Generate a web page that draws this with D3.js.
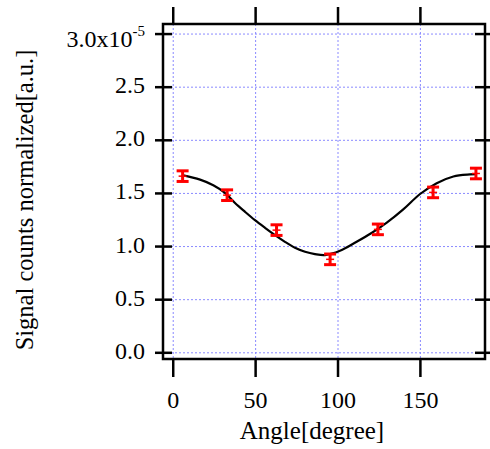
<!DOCTYPE html>
<html>
<head>
<meta charset="utf-8">
<script src="https://cdn.jsdelivr.net/npm/d3@7"></script>
<style>
  body { margin: 0; background: #fff; }
  text { font-family: "Liberation Serif", "Times New Roman", serif; fill: #000; }
</style>
</head>
<body>
<div id="chart"></div>
<script>
// measured points (angle in degree, signal in 1e-5 a.u.)
let angles = [6, 33, 63, 95.5, 124.5, 158, 184];
let signals = [1.658, 1.479, 1.150, 0.875, 1.157, 1.505, 1.683];
let errors = [0.05, 0.05, 0.05, 0.05, 0.05, 0.05, 0.05];

// fitted curve
let fitAngles = [5.6, 16.6, 24.6, 31.7, 37.8, 43.9, 49.9, 56.0, 62.1, 68.1, 74.2, 80.3, 86.3, 92.4, 101.5, 111.6, 120.9, 129.9, 139.9, 150.1, 160.2, 170.3, 180.4, 184.5];
let fitValues = [1.667, 1.625, 1.572, 1.500, 1.405, 1.322, 1.244, 1.172, 1.103, 1.040, 0.984, 0.946, 0.924, 0.915, 0.955, 1.040, 1.125, 1.220, 1.345, 1.490, 1.592, 1.655, 1.674, 1.677];

let xTicks = [0, 50, 100, 150];
let yTicks = [0, 0.5, 1.0, 1.5, 2.0, 2.5, 3.0];

let W = 490, H = 449;
let pLeft = 163, pRight = 485, pTop = 24, pBottom = 359;

let svg = d3.select('#chart')
  .append('svg')
    .attr('width', W)
    .attr('height', H)
;

let x = d3.scaleLinear().domain([-5.9, 189.5]).range([pLeft, pRight]);
let y = d3.scaleLinear().domain([-0.063, 3.09]).range([pBottom, pTop]);

// grid
let grid = svg.append('g')
    .attr('stroke', '#8a8aff')
    .attr('stroke-width', 1)
    .attr('stroke-dasharray', '2,2')
;
grid.selectAll('.vgrid').data(xTicks).enter()
  .append('line')
    .attr('class', 'vgrid')
    .attr('x1', d => x(d) + 0.5)
    .attr('x2', d => x(d) + 0.5)
    .attr('y1', pTop)
    .attr('y2', pBottom)
;
grid.selectAll('.hgrid').data(yTicks).enter()
  .append('line')
    .attr('class', 'hgrid')
    .attr('x1', pLeft)
    .attr('x2', pRight)
    .attr('y1', d => y(d) + 0.5)
    .attr('y2', d => y(d) + 0.5)
;

// axes
let fmt = d3.format('.1f');

let yLeft = svg.append('g')
    .attr('transform', 'translate(' + pLeft + ',0)')
    .call(d3.axisLeft(y).tickValues(yTicks).tickSizeInner(8).tickSizeOuter(0)
      .tickFormat(d => d == 3 ? '' : fmt(d)))
;
yLeft.selectAll('.tick line').attr('x2', 9).attr('x1', -8);

let yRight = svg.append('g')
    .attr('transform', 'translate(' + pRight + ',0)')
    .call(d3.axisRight(y).tickValues(yTicks).tickSizeInner(5).tickSizeOuter(0).tickFormat(''))
;
yRight.selectAll('.tick line').attr('x2', 5).attr('x1', -10);

let xBottom = svg.append('g')
    .attr('transform', 'translate(0,' + pBottom + ')')
    .call(d3.axisBottom(x).tickValues(xTicks).tickSize(18).tickSizeOuter(0).tickPadding(14))
;

let xTop = svg.append('g')
    .attr('transform', 'translate(0,' + pTop + ')')
    .call(d3.axisTop(x).tickValues(xTicks).tickSize(17).tickSizeOuter(0).tickFormat(''))
;

svg.selectAll('.domain').attr('stroke', 'none');
svg.selectAll('.tick line').attr('stroke', '#000').attr('stroke-width', 2.5);
svg.selectAll('.tick text')
    .style('font-family', '"Liberation Serif", serif')
    .style('font-size', '24px')
    .attr('fill', '#000')
;
yLeft.selectAll('.tick text').attr('x', -18).attr('dy', '0.25em');

// frame
svg.append('rect')
    .attr('x', pLeft)
    .attr('y', pTop)
    .attr('width', pRight - pLeft)
    .attr('height', pBottom - pTop)
    .attr('fill', 'none')
    .attr('stroke', '#000')
    .attr('stroke-width', 2.5)
;

// top y label with exponent
let topLabel = svg.append('text')
    .attr('x', 145)
    .attr('y', y(3.0) + 13)
    .attr('text-anchor', 'end')
    .style('font-size', '24px')
;
topLabel.append('tspan').text('3.0x10');
topLabel.append('tspan').text('-5').attr('dy', -11).style('font-size', '15px');

// fitted curve
let line = d3.line()
    .x((d, i) => x(fitAngles[i]))
    .y(d => y(d))
    .curve(d3.curveCatmullRom)
;
svg.append('path')
    .datum(fitValues)
    .attr('d', line)
    .attr('fill', 'none')
    .attr('stroke', '#000')
    .attr('stroke-width', 2.2)
;

// error bars
let bars = svg.selectAll('.ebar').data(signals).enter()
  .append('g')
    .attr('class', 'ebar')
    .attr('stroke', '#ff0000')
    .attr('stroke-width', 3)
;
bars.append('line')
    .attr('x1', (d, i) => x(angles[i]))
    .attr('x2', (d, i) => x(angles[i]))
    .attr('y1', (d, i) => y(d - errors[i]))
    .attr('y2', (d, i) => y(d + errors[i]))
;
bars.append('line')
    .attr('x1', (d, i) => x(angles[i]) - 6)
    .attr('x2', (d, i) => x(angles[i]) + 6)
    .attr('y1', (d, i) => y(d + errors[i]))
    .attr('y2', (d, i) => y(d + errors[i]))
;
bars.append('line')
    .attr('x1', (d, i) => x(angles[i]) - 6)
    .attr('x2', (d, i) => x(angles[i]) + 6)
    .attr('y1', (d, i) => y(d - errors[i]))
    .attr('y2', (d, i) => y(d - errors[i]))
;
bars.append('line')
    .attr('x1', (d, i) => x(angles[i]) - 4)
    .attr('x2', (d, i) => x(angles[i]) + 4)
    .attr('y1', (d, i) => y(d))
    .attr('y2', (d, i) => y(d))
    .attr('stroke-width', 1.5)
;

// axis titles
svg.append('text')
    .attr('x', 312)
    .attr('y', 439)
    .attr('text-anchor', 'middle')
    .style('font-size', '25px')
    .text('Angle[degree]')
;
svg.append('text')
    .attr('transform', 'translate(33,' + 200 + ') rotate(-90)')
    .attr('text-anchor', 'middle')
    .style('font-size', '24.5px')
    .text('Signal counts normalized[a.u.]')
;
</script>
</body>
</html>
